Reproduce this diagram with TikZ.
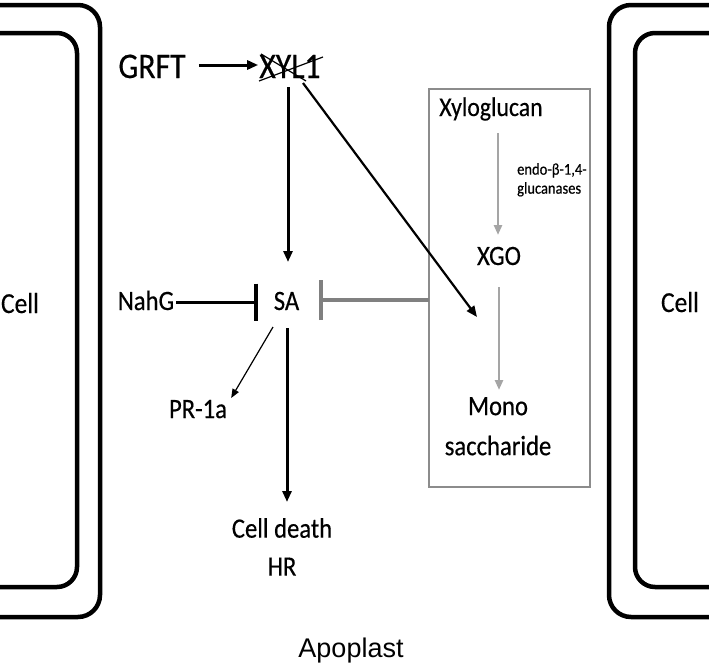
\documentclass[tikz,border=0pt]{standalone}
\usepackage{fontspec}
\setmainfont{Carlito}[FakeStretch=0.88,FakeBold=0.4]
\newfontfamily\apofont{Liberation Sans}
\usetikzlibrary{arrows.meta,calc}
\definecolor{arrgray}{RGB}{165,165,165}
\definecolor{inhgray}{RGB}{128,128,128}
\definecolor{boxgray}{RGB}{140,140,140}
\newcommand{\fs}[1]{\fontsize{#1}{#1}\selectfont}
\tikzset{
  txt/.style={inner sep=0pt, anchor=base, font=\fs{28}},
  big/.style={inner sep=0pt, anchor=base, font=\fs{36}},
  wall/.style={line width=4.5pt},
  strike/.style={line width=1.2pt},
  blackarr/.style={line width=3pt, -{Triangle[length=11pt,width=9pt]}},
  thinarr/.style={line width=1.2pt, -{Triangle[length=9pt,width=7pt]}},
  grayarr/.style={line width=2.5pt, arrgray, -{Triangle[length=10pt,width=8pt]}},
  inhib/.style={line width=3pt, -{Bar[width=37pt,line width=4pt]}},
  grayinhib/.style={line width=4pt, inhgray, -{Bar[width=40pt,line width=4pt]}},
}
\begin{document}
\begin{tikzpicture}[x=1pt,y=-1pt]
\useasboundingbox (0,0) rectangle (709,664);
% cell walls
\draw[wall, rounded corners=22pt] (0,5) -- (100,5) -- (100,617) -- (0,617);
\draw[wall, rounded corners=20pt] (0,33) -- (77,33) -- (77,587) -- (0,587);
\draw[wall, rounded corners=22pt] (709,5) -- (609,5) -- (609,617) -- (709,617);
\draw[wall, rounded corners=20pt] (709,33) -- (635,33) -- (635,587) -- (709,587);
% labels
\node[txt, font=\fs{29}] (cellL) at (20,313) {Cell};
\node[txt, font=\fs{29}] (cellR) at (680,312) {Cell};
\node[txt, font=\apofont\fs{27}] (apo) at (351,657) {Apoplast};
% box
\draw[boxgray, line width=1.2pt] (429,89) rectangle (590,487);
\coordinate (boxL) at (429,300);
\node[txt, font=\fs{27}] (xylo) at (491,116) {Xyloglucan};
\node[inner sep=0pt, font=\fontsize{16.5}{19}\selectfont, align=left, anchor=north west] (endo) at (517,163) {endo-β-1,4-\\glucanases};
\node[txt] (xgo) at (499,265) {XGO};
\node[inner sep=0pt, align=center, anchor=north, font=\fontsize{28}{40}\selectfont] (mono) at (498,397) {Mono\\saccharide};
% main nodes
\node[big] (grft) at (152,78) {GRFT};
\node[big] (xyl) at (290,78) {XYL1};
\draw[strike] (261,54) -- (306,81);
\draw[strike] (259,81) -- (323,57);
\node[txt] (sa) at (286.5,310) {SA};
\node[txt] (nahg) at (146,310) {NahG};
\node[txt] (pr) at (198,418) {PR-1a};
\node[inner sep=0pt, align=center, anchor=north, font=\fontsize{28}{38}\selectfont] (death) at (282,518) {Cell death\\HR};
% arrows
\draw[blackarr] ($(grft.base east)+(13,-13)$) -- ($(xyl.base west)+(-1,-13)$);
\draw[blackarr] ($(xyl.base -| sa.base)+(1.5,9)$) -- ($(sa.base)+(1.5,-48)$);
\draw[blackarr, line width=2.2pt] ($(xyl.base)+(13,5)$) -- ($(mono.north)+(-21,-80)$);
\draw[inhib] ($(nahg.base east)+(2,-8)$) -- ($(sa.base west)+(-16,-8)$);
\draw[grayinhib] (boxL) -- ($(sa.base east)+(20,-10)$);
\draw[thinarr] ($(sa.base)+(-13.5,17)$) -- ($(pr.base east)+(4,-20)$);
\draw[blackarr] ($(sa.base)+(0.5,18)$) -- ($(death.north -| sa.base)+(0.5,-16)$);
\draw[grayarr] ($(xylo.base -| xgo.base)+(-1,17)$) -- ($(xgo.base)+(-1,-30)$);
\draw[grayarr] ($(xgo.base)+(0,22)$) -- ($(mono.north)+(1,-7)$);
\end{tikzpicture}
\end{document}
